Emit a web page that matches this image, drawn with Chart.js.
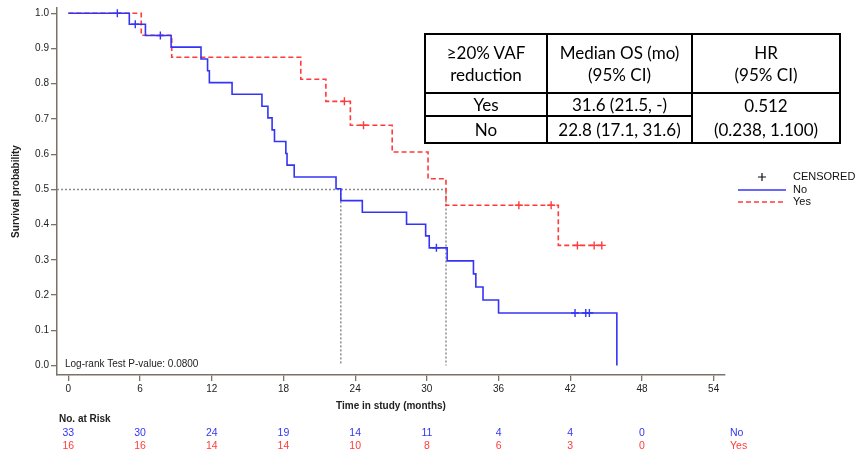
<!DOCTYPE html>
<html>
<head>
<meta charset="utf-8">
<script src="https://cdn.jsdelivr.net/npm/chart.js@4.4.1/dist/chart.umd.min.js"></script>
<style>
  html, body { margin: 0; padding: 0; background: #fff; }
  #wrap { position: relative; width: 860px; height: 459px; }
  #tbl { position: absolute; left: 424px; top: 33px; border-collapse: collapse;
    font-family: Lato, "Open Sans", sans-serif; font-size: 17px; color: #000; }
  #tbl td { border: 2px solid #000; text-align: center; padding: 0; white-space: nowrap; }
</style>
</head>
<body>
<div id="wrap">
  <canvas id="km" width="860" height="459"></canvas>
  <table id="tbl">
    <tr style="height:59px"><td style="width:120px;line-height:22px">≥20% VAF<br>reduction</td>
      <td style="width:143px;line-height:22px">Median OS (mo)<br>(95% CI)</td>
      <td style="width:146px;line-height:22px">HR<br>(95% CI)</td></tr>
    <tr style="height:22px"><td>Yes</td><td>31.6 (21.5, -)</td>
      <td rowspan="2" style="line-height:24px">0.512<br>(0.238, 1.100)</td></tr>
    <tr style="height:26px"><td>No</td><td>22.8 (17.1, 31.6)</td></tr>
  </table>
</div>
<script>
"use strict";

/* Kaplan-Meier steps (time in months, survival) */
const noTimes = [0, 5.1, 6.45, 8.6, 11.1, 11.65, 11.8, 13.7, 16.2, 16.7, 17.05, 17.25,
  18.2, 18.3, 18.9, 22.4, 22.8, 24.6, 28.3, 29.9, 30.2, 31.7, 33.9, 34.1, 34.7, 36.0, 45.9];
const noSurv = [1, 0.969, 0.937, 0.904, 0.870, 0.837, 0.803, 0.770, 0.736, 0.703, 0.669, 0.636,
  0.602, 0.569, 0.535, 0.502, 0.468, 0.435, 0.401, 0.368, 0.334, 0.297, 0.260, 0.223, 0.186, 0.149, 0];
const noCensored = [4.1, 5.6, 7.7, 30.8, 42.4, 43.3, 43.6];

const yesTimes = [0, 6.1, 8.65, 19.45, 21.55, 23.6, 27.1, 30.1, 31.6, 41.0, 44.64];
const yesSurv = [1, 0.9375, 0.875, 0.8125, 0.75, 0.682, 0.606, 0.530, 0.455, 0.341, 0.341];
const yesCensored = [23.1, 24.7, 37.7, 40.4, 42.6, 44.0, 44.64];

const medianNo = 22.8, medianYes = 31.6;

const xTicks = [0, 6, 12, 18, 24, 30, 36, 42, 48, 54];
const yTicks = [0, 0.1, 0.2, 0.3, 0.4, 0.5, 0.6, 0.7, 0.8, 0.9, 1.0];
const riskTimes = [0, 6, 12, 18, 24, 30, 36, 42, 48];
const riskNo = [33, 30, 24, 19, 14, 11, 4, 4, 0];
const riskYes = [16, 16, 14, 14, 10, 8, 6, 3, 0];

const BLUE = "#3434f6", RED = "#ff3b3b", AXIS = "#7b7366", DOT = "#8c8c8c";
const FONT = "'Liberation Sans', Arial, sans-serif";
const X_MIN = -0.95, X_MAX = 54.95;

const pts = (xs, ys) => xs.map((x, i) => ({ x, y: ys[i] }));
// survival value of a step curve at time t (for censor marks)
const survAt = (xs, ys, t) => { let s = ys[0];
  xs.forEach((x, i) => { if (x <= t) s = ys[i]; }); return s; };
const cens = (xs, ys, cs) => cs.map((t) => ({ x: t, y: survAt(xs, ys, t) }));

const extras = {
  id: "extras",
  afterDraw(chart) {
    const { ctx, scales: { x } } = chart;
    ctx.save();
    ctx.textBaseline = "middle";
    ctx.fillStyle = "#222";
    ctx.font = "10px " + FONT;
    ctx.textAlign = "left";
    ctx.fillText("Log-rank Test P-value: 0.0800", 65, 364);

    // legend
    ctx.font = "11px " + FONT;
    ctx.fillStyle = "#111";
    ctx.fillText("CENSORED", 793, 177);
    ctx.fillText("No", 793, 190);
    ctx.fillText("Yes", 793, 202);
    ctx.strokeStyle = "#111"; ctx.lineWidth = 1.2;
    ctx.beginPath(); ctx.moveTo(758, 177); ctx.lineTo(766, 177);
    ctx.moveTo(762, 173); ctx.lineTo(762, 181); ctx.stroke();
    ctx.strokeStyle = BLUE; ctx.lineWidth = 1.6;
    ctx.beginPath(); ctx.moveTo(738, 190); ctx.lineTo(786, 190); ctx.stroke();
    ctx.strokeStyle = RED; ctx.setLineDash([5, 3]);
    ctx.beginPath(); ctx.moveTo(738, 202); ctx.lineTo(786, 202); ctx.stroke();
    ctx.setLineDash([]);

    // numbers at risk
    ctx.font = "bold 10px " + FONT;
    ctx.fillStyle = "#222";
    ctx.fillText("No. at Risk", 59, 419);
    ctx.font = "10.5px " + FONT;
    ctx.textAlign = "center";
    riskTimes.forEach((t, i) => {
      const px = x.getPixelForValue(t);
      ctx.fillStyle = BLUE; ctx.fillText(String(riskNo[i]), px, 433);
      ctx.fillStyle = RED; ctx.fillText(String(riskYes[i]), px, 446);
    });
    ctx.textAlign = "left";
    ctx.fillStyle = BLUE; ctx.fillText("No", 730, 433);
    ctx.fillStyle = RED; ctx.fillText("Yes", 730, 446);
    ctx.restore();
  }
};

const axisGrid = { drawOnChartArea: false, drawTicks: true, tickLength: 6, color: AXIS, lineWidth: 1.3 };

new Chart(document.getElementById("km"), {
  type: "line",
  data: {
    datasets: [
      { data: pts(noTimes, noSurv), stepped: true, borderColor: BLUE, borderWidth: 1.6,
        pointRadius: 0, fill: false },
      { data: pts(yesTimes, yesSurv), stepped: true, borderColor: RED, borderWidth: 1.6,
        borderDash: [5, 3], pointRadius: 0, fill: false },
      { data: cens(noTimes, noSurv, noCensored), showLine: false, pointStyle: "cross",
        pointRadius: 4, borderColor: BLUE, pointBorderWidth: 1.4 },
      { data: cens(yesTimes, yesSurv, yesCensored), showLine: false, pointStyle: "cross",
        pointRadius: 4, borderColor: RED, pointBorderWidth: 1.4 },
      { data: [{ x: X_MIN, y: 0.5 }, { x: medianYes, y: 0.5 }, { x: medianYes, y: 0 }],
        borderColor: DOT, borderWidth: 1.5, borderDash: [2, 2], pointRadius: 0 },
      { data: [{ x: medianNo, y: 0.5 }, { x: medianNo, y: 0 }],
        borderColor: DOT, borderWidth: 1.5, borderDash: [2, 2], pointRadius: 0 },
    ]
  },
  options: {
    responsive: false,
    animation: false,
    layout: { padding: { left: 0, top: 7, right: 135, bottom: 0 } },
    plugins: { legend: { display: false }, tooltip: { enabled: false } },
    scales: {
      x: {
        type: "linear", min: X_MIN, max: X_MAX,
        afterFit: (s) => { s.height = 84; },
        afterBuildTicks: (s) => { s.ticks = xTicks.map((v) => ({ value: v })); },
        grid: axisGrid,
        border: { color: AXIS, width: 1.5 },
        ticks: { color: "#222", font: { family: FONT, size: 10 }, padding: 2,
          maxRotation: 0, autoSkip: false },
        title: { display: true, text: "Time in study (months)", color: "#222",
          font: { family: FONT, size: 10, weight: "bold" }, padding: { top: 0, bottom: 47 } }
      },
      y: {
        min: -0.027, max: 1.015,
        afterFit: (s) => { s.width = 57; },
        afterBuildTicks: (s) => { s.ticks = yTicks.map((v) => ({ value: v })); },
        grid: axisGrid,
        border: { color: AXIS, width: 1.5 },
        ticks: { color: "#222", font: { family: FONT, size: 10 }, padding: 2,
          callback: (v) => v.toFixed(1) },
        title: { display: true, text: "Survival probability", color: "#222",
          font: { family: FONT, size: 10, weight: "bold" }, padding: { top: 10, bottom: 0 } }
      }
    }
  },
  plugins: [extras]
});
</script>
</body>
</html>
